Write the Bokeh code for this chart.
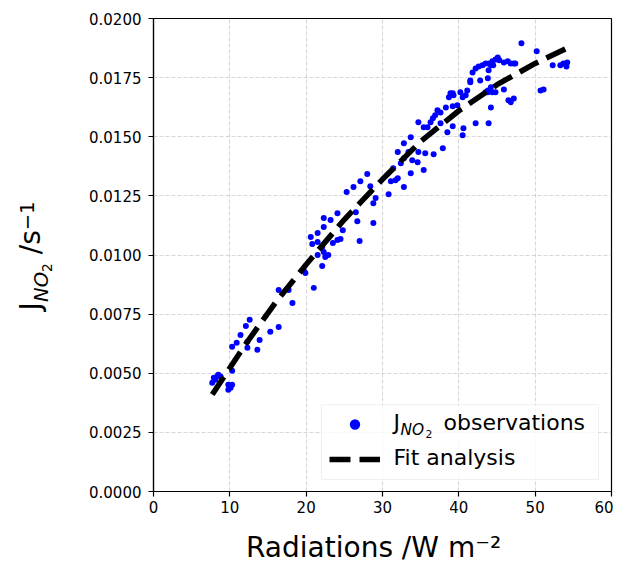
from bokeh.plotting import figure
from bokeh.layouts import row
from bokeh.models import (Range1d, FixedTicker, NumeralTickFormatter,
                          Legend, LegendItem, Label, BoxAnnotation)
from bokeh.embed import file_html
from bokeh.resources import INLINE

FONT = "DejaVu Sans"

obs_x = [7.9, 8.1, 8.4, 8.5, 7.7, 8.8, 9.8, 9.8, 10.3, 10.1, 10.3, 10.3, 10.9, 11.4, 12.1,
         12.6, 13.6, 13.9, 12.3, 12.3, 15.3, 16.4, 18.2, 17.7, 16.4,
         19.9, 19.7, 21.0, 22.1, 21.5, 22.5, 22.9, 22.3, 22.1, 21.5, 20.8, 20.6, 21.5, 22.3,
         22.3, 23.2, 23.5, 24.1, 24.5, 24.8, 24.1, 26.5, 26.7, 27.0, 25.3, 26.2, 27.1, 28.0,
         28.4, 29.1, 28.8, 28.8, 30.8, 31.1, 32.0, 31.4, 32.4,
         32.0, 32.8, 33.7, 33.4, 34.7, 35.6, 36.7, 37.9, 32.8, 33.9, 34.6, 35.4, 33.7, 31.7,
         32.8, 34.7, 35.4, 35.9, 36.3, 36.6, 36.9, 37.2, 37.6, 38.3, 39.2, 39.8, 37.6, 38.5,
         39.2, 40.5, 40.6, 42.2, 43.9, 38.9, 39.3, 38.7, 39.2, 40.2, 41.1, 41.5, 42.8, 43.8,
         44.2, 40.5,
         48.2, 50.2, 52.3, 53.3, 53.7, 54.2, 54.1, 50.7, 51.1, 41.8, 42.2, 42.6, 43.1, 43.5,
         43.9, 44.4, 44.8, 45.1, 45.3, 45.9, 46.4, 46.8, 47.2, 47.4, 44.2, 44.5, 43.9, 41.5,
         43.8, 44.4, 44.8, 45.9, 43.8, 40.9, 46.8, 46.5, 47.2, 44.2, 43.5]
obs_y = [0.00481, 0.00473, 0.00489, 0.00494, 0.00460, 0.00485, 0.00451, 0.00430, 0.00451,
         0.00439, 0.00511, 0.00612, 0.00629, 0.00662, 0.00700, 0.00726, 0.00599, 0.00641,
         0.00633, 0.00608, 0.00675, 0.00696, 0.00797, 0.00852, 0.00852,
         0.00924, 0.00932, 0.00861, 0.00954, 0.01000, 0.00992, 0.01000, 0.01013, 0.01034,
         0.01055, 0.01046, 0.01076, 0.01093, 0.01118, 0.01156, 0.01148, 0.01051, 0.01063,
         0.01068, 0.01105, 0.01177, 0.01181, 0.01143, 0.01059, 0.01266, 0.01287, 0.01312,
         0.01342, 0.01291, 0.01241, 0.01219, 0.01135, 0.01257, 0.01312, 0.01325, 0.01367,
         0.01388,
         0.01435, 0.01473, 0.01498, 0.01435, 0.01435, 0.01430, 0.01426, 0.01451, 0.01409,
         0.01401, 0.01392, 0.01359, 0.01346, 0.01316, 0.01287, 0.01561, 0.01540, 0.01540,
         0.01561, 0.01578, 0.01591, 0.01612, 0.01603, 0.01624, 0.01629, 0.01633, 0.01557,
         0.01519, 0.01544, 0.01506, 0.01536, 0.01557, 0.01557, 0.01684, 0.01675, 0.01667,
         0.01684, 0.01688, 0.01696, 0.01730, 0.01738, 0.01696, 0.01709, 0.01667,
         0.01895, 0.01861, 0.01802, 0.01802, 0.01810, 0.01814, 0.01797, 0.01696, 0.01700,
         0.01772, 0.01789, 0.01797, 0.01802, 0.01810, 0.01810, 0.01819, 0.01827, 0.01835,
         0.01823, 0.01814, 0.01819, 0.01810, 0.01810, 0.01810, 0.01802, 0.01802, 0.01781,
         0.01738, 0.01747, 0.01688, 0.01688, 0.01700, 0.01688, 0.01675, 0.01646, 0.01654,
         0.01662, 0.01624, 0.01688]

# fitted curve
fit_x = [7.7, 12, 16, 20, 25, 30, 35, 40, 45, 50, 54.5]
fit_y = [0.0041, 0.0062, 0.0080, 0.0096, 0.0115, 0.0132, 0.0148, 0.0161, 0.0172, 0.0181, 0.0188]

x_ticks = [0, 10, 20, 30, 40, 50, 60]
y_ticks = [0.0, 0.0025, 0.005, 0.0075, 0.01, 0.0125, 0.015, 0.0175, 0.02]


def lab(fig, x, y, text, size, angle=0, style="normal"):
    fig.add_layout(Label(x=x, y=y, x_units="screen", y_units="screen", text=text,
                         angle=angle, text_font=FONT, text_font_size=size,
                         text_font_style=style, text_color="black",
                         text_align="left", text_baseline="alphabetic", level="overlay"))


# --- narrow strip on the left that carries the y axis label ---
# (its frame lines up with the main frame, so y is counted from the main frame bottom)
ylab = figure(width=60, height=566, title=None, output_backend="svg", toolbar_location=None,
              x_range=Range1d(0, 60), y_range=Range1d(0, 566),
              x_axis_location=None, y_axis_location=None, min_border=0)
ylab.outline_line_color = None
ylab.background_fill_color = "white"
ylab.border_fill_color = "white"
ylab.grid.visible = False

rot = 1.5707963
lab(ylab, 30, 181, "J", "28px", rot)
lab(ylab, 40.6, 189.5, "NO", "19.6px", rot, "italic")
lab(ylab, 46.2, 219.6, "2", "13.7px", rot)
lab(ylab, 30, 237.2, "/s", "28px", rot)
lab(ylab, 26.6, 261.2, "\u22121", "19.6px", rot)

# --- main plot ---
p = figure(width=553, height=566, title=None, output_backend="svg", toolbar_location=None,
           x_range=Range1d(0, 60), y_range=Range1d(0, 0.02),
           min_border_left=93, min_border_right=2, min_border_top=18, min_border_bottom=74)
p.background_fill_color = "white"
p.border_fill_color = "white"
p.outline_line_color = "black"
p.outline_line_width = 1.2

p.xaxis.ticker = FixedTicker(ticks=x_ticks)
p.yaxis.ticker = FixedTicker(ticks=y_ticks)
p.yaxis.formatter = NumeralTickFormatter(format="0.0000")
for ax in (p.xaxis, p.yaxis):
    ax.axis_line_width = 1.2
    ax.major_tick_in = 0
    ax.major_tick_out = 5
    ax.major_tick_line_width = 1.2
    ax.minor_tick_line_color = None
    ax.major_label_text_font = FONT
    ax.major_label_text_font_size = "15px"
    ax.major_label_text_color = "black"
p.xaxis.major_label_standoff = 4
p.yaxis.major_label_standoff = 7

# trailing no-break spaces nudge the centred label a little to the left
p.xaxis.axis_label = "Radiations /W m\u207b\u00b2\u00a0\u00a0"
p.xaxis.axis_label_text_font = FONT
p.xaxis.axis_label_text_font_size = "28px"
p.xaxis.axis_label_text_font_style = "normal"
p.xaxis.axis_label_text_color = "black"
p.xaxis.axis_label_standoff = 15

for g in (p.xgrid, p.ygrid):
    g.grid_line_color = "#b0b0b0"
    g.grid_line_alpha = 0.5
    g.grid_line_width = 1.1
    g.grid_line_dash = "4 2"

# white legend box under the glyphs, over the grid
p.add_layout(BoxAnnotation(left=22.0, right=58.3, bottom=0.00051, top=0.00367,
                           fill_color="white", fill_alpha=0.8,
                           line_color="#cccccc", line_width=1, level="underlay"))

sc = p.scatter(obs_x, obs_y, size=6, fill_color="blue", line_color=None)
ln = p.line(fit_x, fit_y, line_color="black", line_width=5.5, line_dash="21 9")

# legend only supplies the marker / dash samples, texts are labels below
legend = Legend(items=[LegendItem(label=" ", renderers=[sc]),
                       LegendItem(label="  ", renderers=[ln])],
                location=(176, 19), padding=7, margin=0, spacing=9,
                glyph_width=51, glyph_height=26, label_height=26, label_width=198,
                label_standoff=14, label_text_font=FONT, label_text_font_size="22px",
                label_text_color="black", border_line_color=None,
                background_fill_alpha=0)
p.add_layout(legend)

lab(p, 240, 68.8, "J", "22px")
lab(p, 247, 61.7, "NO", "15.4px", style="italic")
lab(p, 272, 57.3, "2", "10.8px")
lab(p, 290, 68.8, "observations", "22px")
lab(p, 240, 34.1, "Fit analysis", "22px")

layout = row(ylab, p)
open("out.html", "w").write(file_html(layout, INLINE))
